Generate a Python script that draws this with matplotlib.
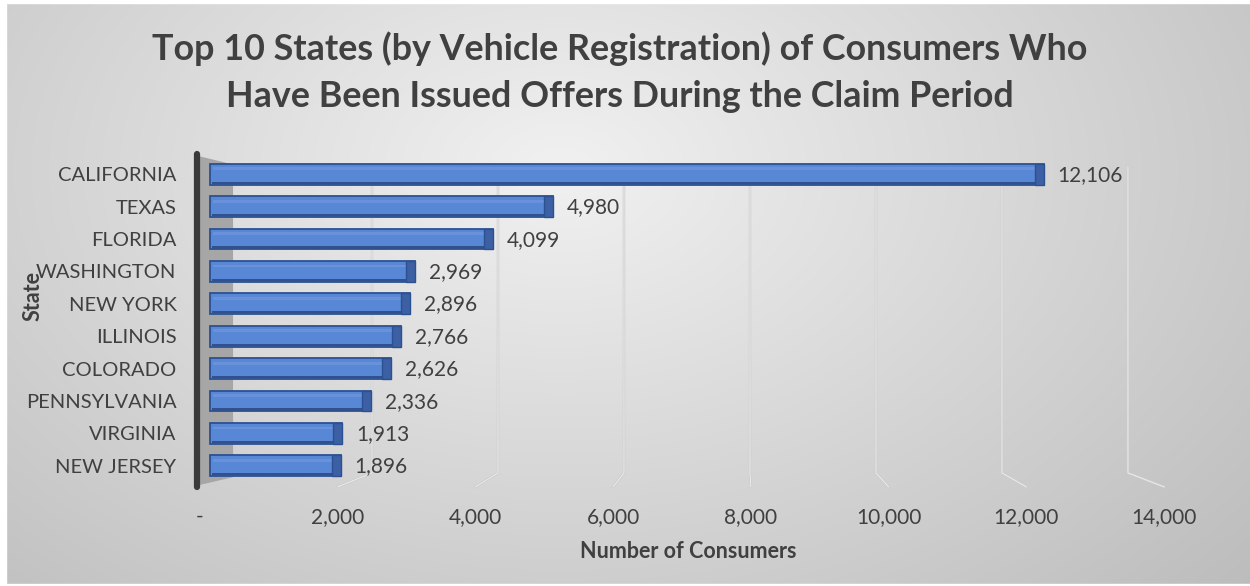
import numpy as np
import matplotlib
matplotlib.use("Agg")
import matplotlib.pyplot as plt
from matplotlib.patches import Polygon, Rectangle
from matplotlib.ticker import FuncFormatter

states = ["CALIFORNIA", "TEXAS", "FLORIDA", "WASHINGTON", "NEW YORK",
          "ILLINOIS", "COLORADO", "PENNSYLVANIA", "VIRGINIA", "NEW JERSEY"]
consumers = [12106, 4980, 4099, 2969, 2896, 2766, 2626, 2336, 1913, 1896]
xticks = [0, 2000, 4000, 6000, 8000, 10000, 12000, 14000]

title = "Top 10 States (by Vehicle Registration) of Consumers Who\nHave Been Issued Offers During the Claim Period"
FONT = "Lato"
TXT = "#404040"

W, H = 1250, 586
fig = plt.figure(figsize=(W / 100, H / 100), dpi=100)

# background radial gradient
bg = fig.add_axes([0, 0, 1, 1], zorder=-10)
yy, xx = np.mgrid[0:H, 0:W]
d = np.sqrt(((xx - 560) / 900.0) ** 2 + ((yy - 170) / 600.0) ** 2)
val = 0.945 - 0.2 * np.clip(d, 0, 1.2)
img = np.dstack([val, val, val])
bg.imshow(img, extent=[0, W, H, 0], aspect="auto", interpolation="bilinear")
bg.add_patch(Rectangle((0, 0), 6, H, color="white"))
bg.add_patch(Rectangle((0, 0), W, 3, color="white"))
bg.add_patch(Rectangle((0, H - 2), W, 2, color="white"))
bg.set_xlim(0, W)
bg.set_ylim(H, 0)
bg.axis("off")

left, right, top, bottom = 200, 1164, 158, 482
ax = fig.add_axes([left / W, 1 - bottom / H, (right - left) / W, (bottom - top) / H])
ax.set_facecolor("none")
ax.set_xlim(0, 14000)
ax.set_ylim(9.5, -0.5)
n = len(states)
ypos = np.arange(n)

# 3-D style gridlines (back wall verticals bending to front ticks)
for v in xticks[1:]:
    back = 668 + 0.9149 * v
    ax.plot([back, back, v], [-0.22, 9.22, 9.65], color="#cdcdcd", lw=1.8,
            clip_on=False, zorder=1, solid_joinstyle="miter")
    ax.plot([back, back, v], [-0.22, 9.22, 9.65], color="#f0f0f0", lw=0.6,
            clip_on=False, zorder=1)

# left wall
wall = Polygon([(-60, -0.58), (480, -0.3), (480, 9.35), (-60, 9.62)],
               closed=True, facecolor="#a6a6a6", edgecolor="none",
               clip_on=False, zorder=1)
ax.add_patch(wall)
ax.plot([-50, -50], [-0.62, 9.65], color="#3a3a3a", lw=4.5, clip_on=False,
        zorder=2, solid_capstyle="round")

# bars
h = 0.64
cap = 130
vals = np.array(consumers)
ax.barh(ypos, vals, height=h, left=150, color="#5887d6",
        edgecolor="#2c5192", lw=1.3, zorder=3)
ax.barh(ypos - h * 0.26, vals - 160, height=h * 0.14, left=190,
        color="#6a92db", edgecolor="none", zorder=4)
ax.barh(ypos + h * 0.41, vals - 20, height=h * 0.10, left=170,
        color="#30508e", edgecolor="none", zorder=4)
ax.barh(ypos, [cap] * n, height=h, left=vals + 150 - cap,
        color="#3d5fa3", edgecolor="#2c5192", lw=1.0, zorder=5)

for y, v in zip(ypos, consumers):
    ax.text(v + 350, y + 0.02, f"{v:,}", va="center", ha="left", fontsize=15,
            family=FONT, color=TXT, zorder=6)

ax.set_yticks(ypos)
ax.set_yticklabels(states, family=FONT, fontsize=14.5, color=TXT)
ax.set_xticks(xticks)
ax.xaxis.set_major_formatter(FuncFormatter(lambda v, p: "-" if v == 0 else f"{int(v):,}"))
for lab in ax.get_xticklabels():
    lab.set_family(FONT)
    lab.set_fontsize(15)
    lab.set_color(TXT)
ax.tick_params(axis="both", length=0)
ax.tick_params(axis="y", pad=17)
ax.tick_params(axis="x", pad=18)
for s in ax.spines.values():
    s.set_visible(False)

fig.text(688 / W, 1 - 551 / H, "Number of Consumers", ha="center", va="center",
         family=FONT, fontsize=15.5, fontweight="bold", color=TXT)
fig.text(33 / W, 1 - 296 / H, "State", ha="center", va="center", rotation=90,
         family=FONT, fontsize=15.5, fontweight="bold", color=TXT)
fig.text(620 / W, 1 - 72 / H, title, ha="center", va="center", family=FONT,
         fontsize=25.8, fontweight="bold", color=TXT, linespacing=1.5)

fig.savefig("out.png", dpi=100)
